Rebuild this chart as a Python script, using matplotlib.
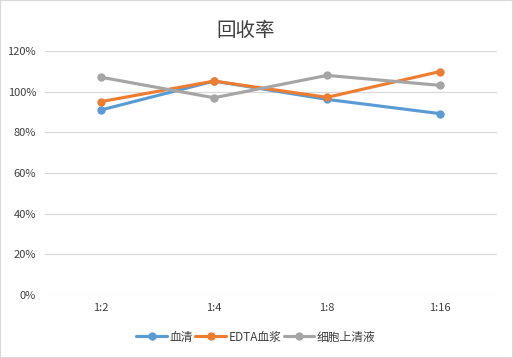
import matplotlib
matplotlib.use("Agg")
import matplotlib.pyplot as plt
from matplotlib.ticker import PercentFormatter
from matplotlib.patches import Rectangle

plt.rcParams["font.family"] = ["Noto Sans CJK SC", "DejaVu Sans"]

categories = ["1:2", "1:4", "1:8", "1:16"]
serum = [91.0, 105.2, 96.2, 89.2]
edta = [95.1, 105.2, 97.2, 109.9]
supernatant = [107.1, 97.0, 108.0, 103.1]

series = [
    ("血清", serum, "#5B9BD5"),
    ("EDTA血浆", edta, "#ED7D31"),
    ("细胞上清液", supernatant, "#A5A5A5"),
]

fig = plt.figure(figsize=(5.13, 3.58), dpi=100)
fig.patches.append(Rectangle((0, 0), 1, 1, transform=fig.transFigure,
                             fill=False, edgecolor="#D9D9D9", linewidth=1.5))
ax = fig.add_axes([44.5 / 513, 1 - 295 / 358, 452 / 513, 244 / 358])

x = list(range(len(categories)))
for label, vals, color in series:
    ax.plot(x, vals, color=color, linewidth=2.25, marker="o", markersize=5,
            label=label, solid_capstyle="round")

ax.set_xlim(-0.5, len(categories) - 0.5)
ax.set_ylim(0, 120)
ax.set_yticks(range(0, 121, 20))
ax.yaxis.set_major_formatter(PercentFormatter(decimals=0))
ax.set_xticks(x)
ax.set_xticklabels(categories)
ax.grid(axis="y", color="#D9D9D9", linewidth=0.9)
ax.set_axisbelow(True)
for s in ax.spines.values():
    s.set_visible(False)
ax.tick_params(length=0, labelsize=8, colors="#404040", pad=6)

fig.text(246 / 513, 1 - 30 / 358, "回收率", ha="center", va="center",
         fontsize=14, color="#404040")

fig.legend(loc="center", bbox_to_anchor=(256 / 513, 1 - 337 / 358), ncol=3,
           frameon=False, fontsize=8.5, handlelength=2.6, columnspacing=0.2,
           handletextpad=0.2, labelcolor="#404040")

fig.savefig("out.png", dpi=100)
